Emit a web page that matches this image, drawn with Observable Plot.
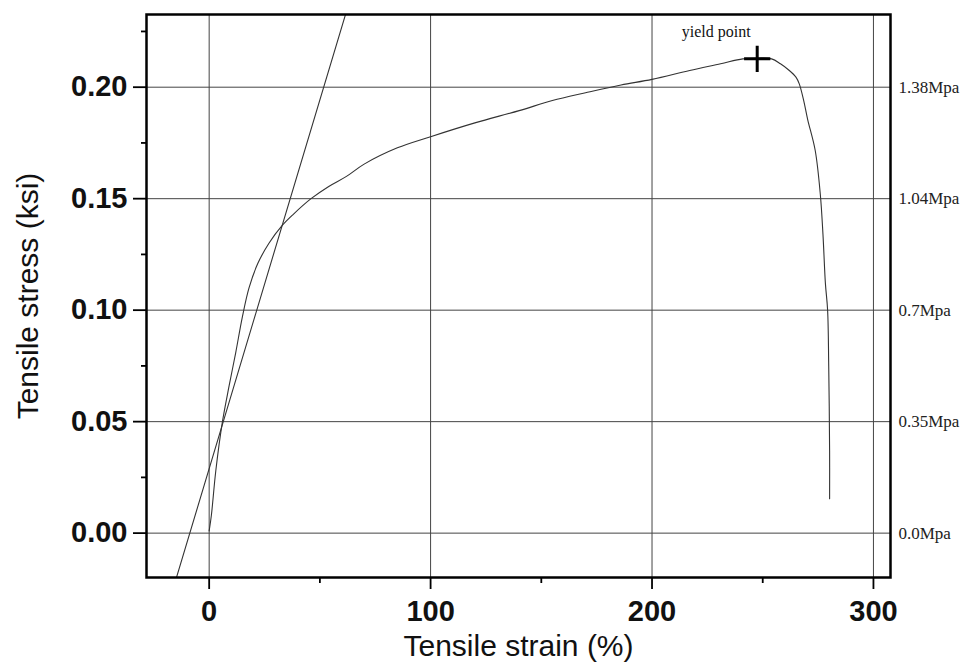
<!DOCTYPE html>
<html>
<head>
<meta charset="utf-8">
<script src="https://cdn.jsdelivr.net/npm/d3@7"></script>
<script src="https://cdn.jsdelivr.net/npm/@observablehq/plot@0.6"></script>
<style>
  html, body { margin: 0; padding: 0; background: #fff; }
  #chart svg { display: block; }
</style>
</head>
<body>
<div id="chart"></div>
<script>
// ---- data ----
const strain = [0, 1, 3, 6, 9, 12, 15, 18, 22, 27, 33, 38, 46, 54, 62, 70, 85, 100, 120, 140, 155, 170, 186, 200, 217, 231, 241, 248, 254, 258, 262, 265, 266.5, 268.5, 270.3, 273.7, 276, 277.2, 278.3, 279.3, 279.8, 280.2, 280.2];
const stress = [0.001, 0.008, 0.028, 0.050, 0.066, 0.081, 0.097, 0.110, 0.121, 0.130, 0.138, 0.143, 0.150, 0.1555, 0.160, 0.1655, 0.1728, 0.1778, 0.184, 0.1895, 0.194, 0.1975, 0.201, 0.2035, 0.2075, 0.2105, 0.2127, 0.2130, 0.2127, 0.2105, 0.2075, 0.2045, 0.2015, 0.194, 0.1855, 0.1716, 0.152, 0.134, 0.112, 0.100, 0.075, 0.037, 0.0154];

// straight (modulus) line endpoints
const modX = [-16, 62];
const modY = [-0.024, 0.234];

// yield point
const yieldX = [247.5];
const yieldY = [0.2127];
const yieldLabel = ["yield point"];

// ticks and labels
const xMajor = [0, 100, 200, 300];
const xMinor = [50, 150, 250];
const yMajor = [0, 0.05, 0.10, 0.15, 0.20];
const yMinor = [0.025, 0.075, 0.125, 0.175, 0.225];
const mpaTicks = [0, 0.05, 0.10, 0.15, 0.20];
const mpaLabels = ["0.0Mpa", "0.35Mpa", "0.7Mpa", "1.04Mpa", "1.38Mpa"];
const xTitle = ["Tensile strain (%)"];
const yTitle = ["Tensile stress (ksi)"];

// ---- build tables ----
const curve = strain.map((x, i) => ({x, y: stress[i]}));
const modLine = modX.map((x, i) => ({x, y: modY[i]}));
const yieldPt = yieldX.map((x, i) => ({x, y: yieldY[i], label: yieldLabel[i]}));
const mpaMap = new Map(mpaTicks.map((t, i) => [t, mpaLabels[i]]));

const sans = "'Liberation Sans', Arial, sans-serif";
const serif = "'Liberation Serif', 'Times New Roman', serif";

const chart = Plot.plot({
  width: 969,
  height: 672,
  marginLeft: 146,
  marginRight: 79,
  marginTop: 14,
  marginBottom: 95,
  style: {fontFamily: sans, background: "#fff", color: "#000"},
  x: {domain: [-28.3, 307.7]},
  y: {domain: [-0.0199, 0.2326]},
  marks: [
    Plot.gridX(xMajor, {stroke: "#444", strokeOpacity: 1, strokeWidth: 1}),
    Plot.gridY(yMajor, {stroke: "#444", strokeOpacity: 1, strokeWidth: 1}),
    Plot.line(modLine, {x: "x", y: "y", stroke: "#333", strokeWidth: 1.1, clip: true}),
    Plot.line(curve, {x: "x", y: "y", curve: "catmull-rom", stroke: "#333", strokeWidth: 1.1}),
    Plot.dot(yieldPt, {x: "x", y: "y", symbol: "plus", r: 8.5, stroke: "#000", strokeWidth: 3}),
    Plot.text(yieldPt, {x: "x", y: "y", text: "label", dx: -41, dy: -22, lineAnchor: "bottom", textAnchor: "middle", fontFamily: serif, fontSize: 16, fill: "#111"}),
    // bottom axis
    Plot.axisX(xMajor, {anchor: "bottom", tickSize: 12, tickPadding: 11, strokeWidth: 1.8, fontSize: 29, fontWeight: "bold", fontFamily: sans, label: null, fill: "#111"}),
    Plot.axisX(xMinor, {anchor: "bottom", tickSize: 6, tickFormat: () => "", strokeWidth: 1.8, label: null}),
    // left axis
    Plot.axisY(yMajor, {anchor: "left", tickSize: 13, tickPadding: 6, strokeWidth: 1.8, fontSize: 29, fontWeight: "bold", fontFamily: sans, tickFormat: d3.format(".2f"), label: null, fill: "#111"}),
    Plot.axisY(yMinor, {anchor: "left", tickSize: 5, tickFormat: () => "", strokeWidth: 1.8, label: null}),
    // right MPa labels
    Plot.axisY(mpaTicks, {anchor: "right", tickSize: 0, tickPadding: 8, tickFormat: d => mpaMap.get(d), fontFamily: serif, fontSize: 17, label: null, fill: "#222"}),
    // titles
    Plot.text(xTitle, {frameAnchor: "bottom", dy: 78, lineAnchor: "bottom", textAnchor: "middle", fontSize: 30, fontFamily: sans, fill: "#111"}),
    Plot.text(yTitle, {frameAnchor: "left", dx: -109, rotate: -90, lineAnchor: "bottom", textAnchor: "middle", fontSize: 30, fontFamily: sans, fill: "#111"}),
    Plot.frame({stroke: "#000", strokeWidth: 2.5})
  ]
});
document.getElementById("chart").appendChild(chart);
</script>
</body>
</html>
